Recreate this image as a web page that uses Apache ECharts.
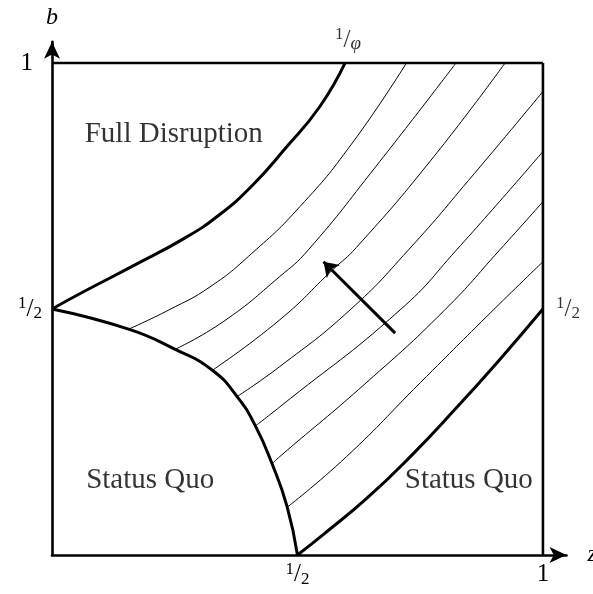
<!DOCTYPE html>
<html>
<head>
<meta charset="utf-8">
<script src="https://cdn.jsdelivr.net/npm/echarts@6/dist/echarts.min.js"></script>
<style>
  html, body { margin: 0; padding: 0; background: #fff; }
  #chart { width: 593px; height: 594px; }
</style>
</head>
<body>
<div id="chart"></div>
<script>
// Region boundaries in the (z, b) unit square
const upperBoundary = [[0, 0.5], [0.068, 0.537], [0.17, 0.59], [0.272, 0.645], [0.339, 0.69], [0.407, 0.75], [0.475, 0.826], [0.546, 0.912], [0.597, 1]];
const lowerBoundary = [[0, 0.5], [0.156, 0.459], [0.251, 0.418], [0.326, 0.376], [0.377, 0.322], [0.414, 0.263], [0.448, 0.186], [0.479, 0.098], [0.5, 0]];
const rightBoundary = [[0.5, 0], [0.553, 0.042], [0.641, 0.115], [0.73, 0.2], [0.82, 0.295], [0.91, 0.395], [1, 0.5]];

// Level curves inside the transition band
const level1 = [[0.156, 0.459], [0.238, 0.498], [0.322, 0.545], [0.407, 0.613], [0.505, 0.708], [0.61, 0.835], [0.722, 1]];
const level2 = [[0.251, 0.418], [0.35, 0.475], [0.464, 0.566], [0.522, 0.62], [0.66, 0.79], [0.823, 1]];
const level3 = [[0.326, 0.375], [0.464, 0.478], [0.572, 0.58], [0.62, 0.625], [0.77, 0.8], [0.923, 1]];
const level4 = [[0.377, 0.322], [0.464, 0.383], [0.607, 0.498], [0.726, 0.62], [0.86, 0.775], [1, 0.942]];
const level5 = [[0.414, 0.262], [0.464, 0.301], [0.709, 0.498], [0.824, 0.62], [1, 0.82]];
const level6 = [[0.448, 0.185], [0.464, 0.2], [0.64, 0.35], [0.8, 0.498], [0.912, 0.62], [1, 0.718]];
const level7 = [[0.479, 0.097], [0.6, 0.2], [0.75, 0.35], [0.899, 0.498], [1, 0.596]];

// Frame of the unit square (top and right sides)
const topEdge = [[0, 1], [1, 1]];
const rightEdge = [[1, 0], [1, 1]];

// Direction arrow
const arrowTail = [0.699, 0.451];
const arrowHead = [0.553, 0.596];

// Tick values
const axisTicks = [0.5, 1];

const SERIF = '"Liberation Serif", "DejaVu Serif", serif';

const textRich = {
  num: { fontFamily: SERIF, fontSize: 17, lineHeight: 17, color: '#000', verticalAlign: 'top' },
  sl: { fontFamily: SERIF, fontSize: 25, lineHeight: 27, color: '#000' },
  den: { fontFamily: SERIF, fontSize: 17, lineHeight: 17, color: '#000', verticalAlign: 'bottom' },
  phi: { fontFamily: SERIF, fontSize: 19, lineHeight: 19, color: '#000', fontStyle: 'italic', verticalAlign: 'bottom' },
  one: { fontFamily: SERIF, fontSize: 25, lineHeight: 27, color: '#000' },
  oneY: { fontFamily: SERIF, fontSize: 25, lineHeight: 27, color: '#000', padding: [0, 9, 0, 0] }
};

const HALF = '{num|1}{sl|/}{den|2}';

function curve(name, data, width) {
  return {
    name: name,
    type: 'line',
    data: data,
    showSymbol: false,
    smooth: 0.5,
    silent: true,
    clip: false,
    lineStyle: { color: '#000', width: width }
  };
}

const chart = echarts.init(document.getElementById('chart'), null, { renderer: 'canvas' });

chart.setOption({
  animation: false,
  backgroundColor: '#fff',
  grid: { left: 52, right: 26.5, top: 41.8, bottom: 39, containLabel: false, outerBoundsMode: 'none' },
  xAxis: {
    type: 'value',
    min: 0,
    max: 1.048,
    interval: 0.5,
    name: 'z',
    nameLocation: 'end',
    nameGap: 21,
    nameTextStyle: { fontFamily: SERIF, fontSize: 24, fontStyle: 'italic', color: '#000', verticalAlign: 'middle' },
    axisLine: { show: true, symbol: ['none', 'arrow'], symbolSize: [12, 17], lineStyle: { color: '#000', width: 2.6 } },
    axisTick: { show: false },
    splitLine: { show: false },
    axisLabel: {
      margin: 6,
      rich: textRich,
      formatter: function (v) {
        if (v === axisTicks[0]) return HALF;
        if (v === axisTicks[1]) return '{one|1}';
        return '';
      }
    }
  },
  yAxis: {
    type: 'value',
    min: 0,
    max: 1.043,
    interval: 0.5,
    name: 'b',
    nameLocation: 'end',
    nameGap: 12,
    nameTextStyle: { fontFamily: SERIF, fontSize: 24, fontStyle: 'italic', color: '#000', align: 'center' },
    axisLine: { show: true, symbol: ['none', 'arrow'], symbolSize: [12, 17], lineStyle: { color: '#000', width: 2.6 } },
    axisTick: { show: false },
    splitLine: { show: false },
    axisLabel: {
      margin: 10,
      rich: textRich,
      formatter: function (v) {
        if (v === axisTicks[0]) return HALF;
        if (v === axisTicks[1]) return '{oneY|1}';
        return '';
      }
    }
  },
  series: [
    curve('top', topEdge, 2.6),
    curve('right', rightEdge, 2.6),
    curve('level1', level1, 1),
    curve('level2', level2, 1),
    curve('level3', level3, 1),
    curve('level4', level4, 1),
    curve('level5', level5, 1),
    curve('level6', level6, 1),
    curve('level7', level7, 1),
    curve('upper', upperBoundary, 3),
    curve('lower', lowerBoundary, 3),
    curve('rightBoundary', rightBoundary, 3),
    {
      name: 'arrow',
      type: 'lines',
      coordinateSystem: 'cartesian2d',
      silent: true,
      symbol: ['none', 'arrow'],
      symbolSize: 14,
      lineStyle: { color: '#000', width: 3, opacity: 1, curveness: 0 },
      data: [{ coords: [arrowTail, arrowHead] }]
    },
    {
      name: 'annotations',
      type: 'scatter',
      symbolSize: 0,
      silent: true,
      label: { show: true, position: 'inside', color: '#000', fontFamily: SERIF, fontSize: 29, rich: textRich },
      data: [
        { value: [0.248, 0.854], label: { formatter: 'Full Disruption' } },
        { value: [0.2, 0.152], label: { formatter: 'Status Quo' } },
        { value: [0.849, 0.152], label: { formatter: 'Status Quo' } },
        { value: [0.603, 1], label: { formatter: '{num|1}{sl|/}{phi|\u03C6}', offset: [0, -23] } },
        { value: [1, 0.5], label: { formatter: HALF, offset: [25, 0] } }
      ]
    }
  ]
});
</script>
</body>
</html>
